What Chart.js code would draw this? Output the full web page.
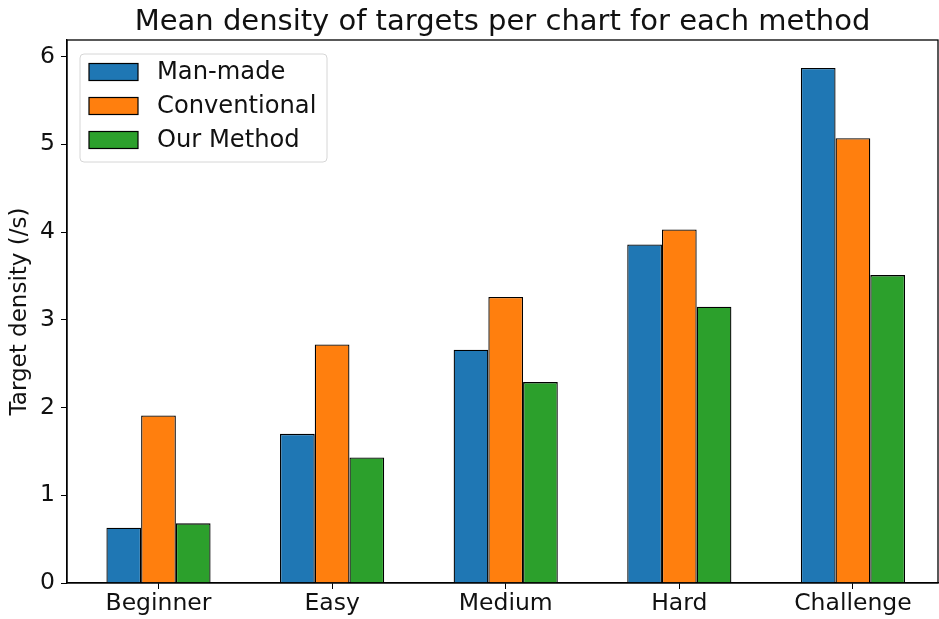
<!DOCTYPE html>
<html>
<head>
<meta charset="utf-8">
<title>Target density per method</title>
<script src="https://cdn.jsdelivr.net/npm/chart.js@4.4.1/dist/chart.umd.min.js"></script>
<style>
  html, body { margin: 0; padding: 0; background: #fff; }
  #wrap { width: 939px; height: 619px; position: relative; }
</style>
</head>
<body>
<div id="wrap"><canvas id="densityChart"></canvas></div>
<script>
// --- Data ---
const levels = ['Beginner', 'Easy', 'Medium', 'Hard', 'Challenge'];
const manMade = [0.63, 1.70, 2.66, 3.86, 5.87];
const conventional = [1.91, 2.72, 3.26, 4.03, 5.07];
const ourMethod = [0.68, 1.43, 2.29, 3.15, 3.51];
const yTicks = [0, 1, 2, 3, 4, 5, 6];

const TITLE = 'Mean density of targets per chart for each method';
const FONT = "'DejaVu Sans', sans-serif";
const TEXT = '#111';

// Frame, title centred over the plot area, and a boxed legend top-left
const frameAndLegend = {
  id: 'frameAndLegend',
  afterLayout(chart) {
    // category margins are a touch wider on the left than the right
    const x = chart.scales.x;
    x._startValue = -0.527;
    x._valueRange = 5.017;
  },
  afterDatasetsDraw(chart) {
    const { ctx, chartArea: a } = chart;
    ctx.save();
    ctx.strokeStyle = '#000';
    ctx.lineWidth = 1.3;
    ctx.strokeRect(a.left, a.top, a.right - a.left, a.bottom - a.top);

    ctx.fillStyle = TEXT;
    ctx.font = '29px ' + FONT;
    ctx.textAlign = 'center';
    ctx.textBaseline = 'middle';
    ctx.fillText(TITLE, (a.left + a.right) / 2, 22);

    // legend box
    const bx = a.left + 13, by = a.top + 14, bw = 247, bh = 108;
    ctx.beginPath();
    ctx.roundRect(bx, by, bw, bh, 4);
    ctx.fillStyle = 'rgba(255,255,255,0.8)';
    ctx.fill();
    ctx.strokeStyle = '#d6d6d6';
    ctx.lineWidth = 1;
    ctx.stroke();

    ctx.font = '24.2px ' + FONT;
    ctx.textAlign = 'left';
    chart.data.datasets.forEach((ds, i) => {
      const cy = by + 18 + i * 34;
      ctx.fillStyle = ds.backgroundColor;
      ctx.fillRect(bx + 9, cy - 8.5, 49, 17);
      ctx.strokeStyle = '#000';
      ctx.lineWidth = 1.2;
      ctx.strokeRect(bx + 9, cy - 8.5, 49, 17);
      ctx.fillStyle = TEXT;
      ctx.fillText(ds.label, bx + 77, cy + 1);
    });
    ctx.restore();
  },
};

function barSet(label, data, color) {
  return {
    label,
    data,
    backgroundColor: color,
    borderColor: '#000',
    borderWidth: 1.3,
    categoryPercentage: 0.6,
    barPercentage: 1.0,
  };
}

new Chart(document.getElementById('densityChart'), {
  type: 'bar',
  data: {
    labels: levels,
    datasets: [
      barSet('Man-made', manMade, '#1f77b4'),
      barSet('Conventional', conventional, '#ff7f0e'),
      barSet('Our Method', ourMethod, '#2ca02c'),
    ],
  },
  options: {
    responsive: true,
    maintainAspectRatio: false,
    animation: false,
    layout: { padding: { top: 40, right: 1, bottom: 0, left: 0 } },
    plugins: {
      legend: { display: false },
      tooltip: { enabled: false },
      title: { display: false },
    },
    scales: {
      x: {
        offset: true,
        grid: { display: true, drawOnChartArea: false, drawTicks: true, tickLength: 6, color: '#000', offset: false },
        border: { display: true, color: '#000', width: 1.3 },
        ticks: { color: TEXT, font: { family: FONT, size: 23.5 }, padding: 1 },
        afterFit: scale => { scale.height = 36; },
      },
      y: {
        min: 0,
        max: 6.19,
        afterBuildTicks: scale => { scale.ticks = yTicks.map(v => ({ value: v })); },
        grid: { display: true, drawOnChartArea: false, drawTicks: true, tickLength: 6, color: '#000' },
        border: { display: true, color: '#000', width: 1.3 },
        ticks: { color: TEXT, font: { family: FONT, size: 23.5 }, padding: 6 },
        title: {
          display: true,
          text: 'Target density (/s)',
          color: TEXT,
          font: { family: FONT, size: 23 },
          padding: { top: 6, bottom: 4 },
        },
        afterFit: scale => { scale.width = 67; },
      },
    },
  },
  plugins: [frameAndLegend],
});
</script>
</body>
</html>
